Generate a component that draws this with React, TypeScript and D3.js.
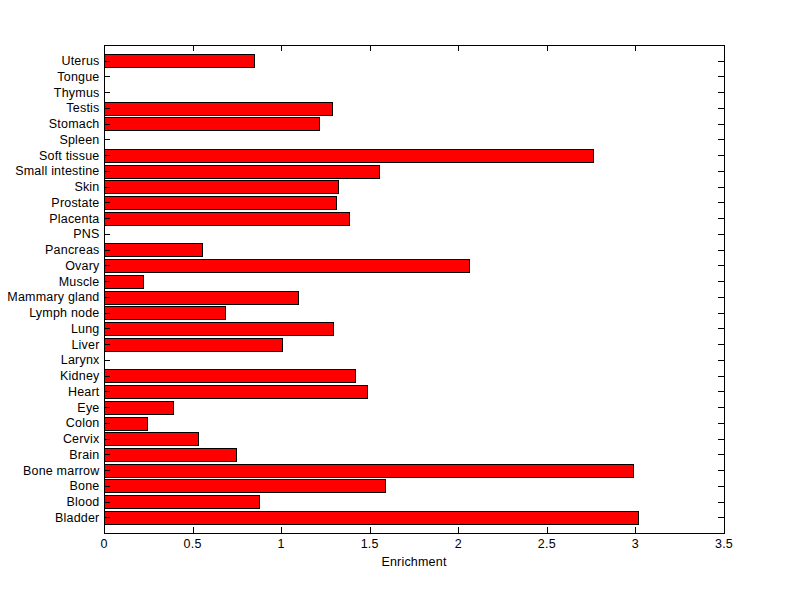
import React from "react";
import * as d3 from "d3";

const categories = [
  "Bladder", "Blood", "Bone", "Bone marrow", "Brain", "Cervix", "Colon", "Eye",
  "Heart", "Kidney", "Larynx", "Liver", "Lung", "Lymph node", "Mammary gland",
  "Muscle", "Ovary", "Pancreas", "PNS", "Placenta", "Prostate", "Skin",
  "Small intestine", "Soft tissue", "Spleen", "Stomach", "Testis", "Thymus",
  "Tongue", "Uterus",
];

const enrichment = [
  3.015, 0.877, 1.588, 2.987, 0.747, 0.529, 0.245, 0.387,
  1.482, 1.415, 0, 1.003, 1.29, 0.681, 1.093,
  0.218, 2.058, 0.551, 0, 1.381, 1.307, 1.319,
  1.55, 2.763, 0, 1.211, 1.285, 0,
  0, 0.845,
];

const xTicks = [0, 0.5, 1, 1.5, 2, 2.5, 3, 3.5];
const xLabel = "Enrichment";

export default function App() {
  const W = 800, H = 599;
  const left = 104, right = 724, top = 45, bottom = 533;
  const x = d3.scaleLinear().domain([0, 3.5]).range([left, right]);
  const y = d3.scaleLinear().domain([0, categories.length + 1]).range([bottom, top]);
  const barH = Math.abs(y(0.8) - y(0));
  const tick = 6;
  const font = "'Liberation Sans', Arial, Helvetica, sans-serif";

  return (
    <svg width={W} height={H} style={{ position: "absolute", left: 0, top: 0, background: "#fff" }}
      fontFamily={font} fontSize={12.5} letterSpacing={0.2}>
      <rect x={0} y={0} width={W} height={H} fill="#fff" />
      {categories.map((c, i) => {
        const v = enrichment[i];
        if (!v) return null;
        const yc = y(i + 1);
        return (
          <rect key={c} x={Math.round(x(0)) + 0.5} y={Math.round(yc - barH / 2) + 0.5}
            width={Math.round(x(v)) - Math.round(x(0))} height={Math.round(barH)}
            fill="#ff0000" stroke="#000" strokeWidth={1} shapeRendering="crispEdges" />
        );
      })}
      <g stroke="#000" strokeWidth={1} shapeRendering="crispEdges">
        {xTicks.map((t) => {
          const xp = Math.round(x(t)) + 0.5;
          return (
            <g key={"xt" + t}>
              <line x1={xp} x2={xp} y1={bottom} y2={bottom - tick} />
              <line x1={xp} x2={xp} y1={top} y2={top + tick} />
            </g>
          );
        })}
        {categories.map((c, i) => {
          const yp = Math.round(y(i + 1)) + 0.5;
          return (
            <g key={"yt" + c}>
              <line x1={left} x2={left + tick} y1={yp} y2={yp} />
              <line x1={right} x2={right - tick} y1={yp} y2={yp} />
            </g>
          );
        })}
        <rect x={left + 0.5} y={top + 0.5} width={right - left} height={bottom - top} fill="none" />
      </g>
      {xTicks.map((t) => (
        <text key={"xl" + t} x={x(t)} y={548} textAnchor="middle" fill="#000">{t}</text>
      ))}
      {categories.map((c, i) => (
        <text key={"yl" + c} x={99.5} y={y(i + 1) + 4.5} textAnchor="end" fill="#000">{c}</text>
      ))}
      <text x={(left + right) / 2} y={566} textAnchor="middle" fill="#000">{xLabel}</text>
    </svg>
  );
}
